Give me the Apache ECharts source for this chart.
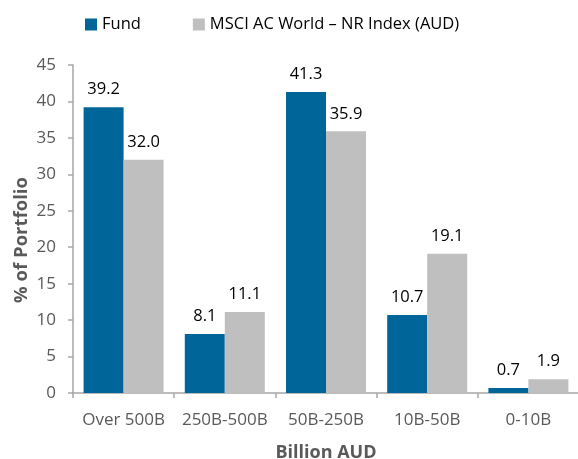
<!DOCTYPE html>
<html><head><meta charset="utf-8">
<script src="https://cdn.jsdelivr.net/npm/echarts@6/dist/echarts.min.js"></script>
<style>html,body{margin:0;padding:0;background:#fff}#c{width:578px;height:459px}</style>
</head><body><div id="c"></div>
<script>
var categories = ['Over 500B', '250B-500B', '50B-250B', '10B-50B', '0-10B'];
var fundValues = [39.2, 8.1, 41.3, 10.7, 0.7];
var indexValues = [32.0, 11.1, 35.9, 19.1, 1.9];
var seriesNames = ['Fund', 'MSCI AC World \u2013 NR Index (AUD)'];
var yTicks = [0, 45, 5];
var FONT = '"Open Sans", "Noto Sans", sans-serif';
var chart = echarts.init(document.getElementById('c'));
function lbl(v){ return v.value.toFixed(1); }
chart.setOption({
  animation: false,
  textStyle: { fontFamily: FONT },
  legend: {
    left: 80, top: 11, itemWidth: 12, itemHeight: 12, itemGap: 52,
    icon: 'rect',
    textStyle: { fontFamily: FONT, fontSize: 16.5, color: '#000' },
    data: seriesNames
  },
  grid: { left: 73, right: -1, top: 65, bottom: 66, containLabel: false, outerBoundsMode: 'none' },
  xAxis: {
    type: 'category', data: categories,
    name: 'Billion AUD', nameLocation: 'middle', nameGap: 51, nameMoveOverlap: false,
    nameTextStyle: { fontFamily: FONT, fontSize: 18, fontWeight: 'bold', color: '#595959' },
    axisLine: { lineStyle: { color: '#A6A6A6', width: 1.5 } },
    axisTick: { show: true, length: 5, lineStyle: { color: '#A6A6A6', width: 1.5 } },
    axisLabel: { interval: 0, hideOverlap: false, fontFamily: FONT, fontSize: 17, color: '#595959', margin: 19 }
  },
  yAxis: {
    type: 'value', min: yTicks[0], max: yTicks[1], interval: yTicks[2],
    name: '% of Portfolio', nameLocation: 'middle', nameGap: 42, nameRotate: 90, nameMoveOverlap: false,
    nameTextStyle: { fontFamily: FONT, fontSize: 18.5, fontWeight: 'bold', color: '#595959', padding: [0, 22, 0, 0] },
    axisLine: { show: true, lineStyle: { color: '#A6A6A6', width: 1.5 } },
    axisTick: { show: true, length: 5, lineStyle: { color: '#A6A6A6', width: 1.5 } },
    splitLine: { show: false },
    axisLabel: { fontFamily: FONT, fontSize: 17, color: '#595959', margin: 17 }
  },
  series: [
    { name: seriesNames[0], type: 'bar', data: fundValues, barWidth: 40, barGap: '0%',
      itemStyle: { color: '#006699' },
      label: { show: true, position: 'top', distance: 9, formatter: lbl, fontFamily: FONT, fontSize: 16.5, color: '#000' } },
    { name: seriesNames[1], type: 'bar', data: indexValues, barWidth: 40, barGap: '0%',
      itemStyle: { color: '#BFBFBF' },
      label: { show: true, position: 'top', distance: 9, formatter: lbl, fontFamily: FONT, fontSize: 16.5, color: '#000' } }
  ]
});
</script></body></html>
